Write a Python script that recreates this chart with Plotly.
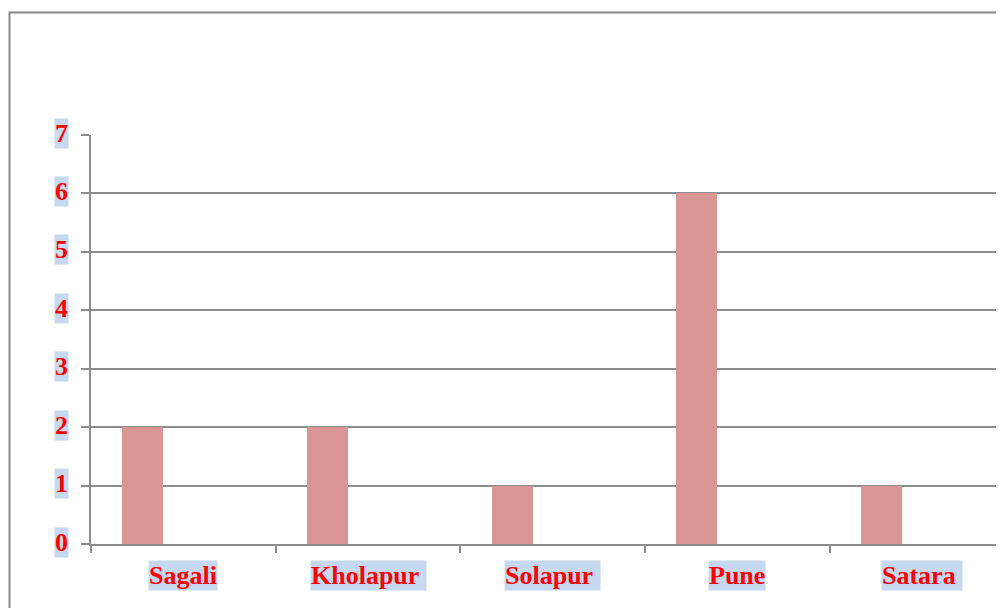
import plotly.graph_objects as go

# dados
cidades = ["Sagali", "Kholapur", "Solapur", "Pune", "Satara"]
rotulos = ["Sagali", "Kholapur\u00a0", "Solapur\u00a0", "Pune", "Satara\u00a0"]
valores = [2, 2, 1, 6, 1]
ticks_y = [0, 1, 2, 3, 4, 5, 6, 7]

CORES = {"barra": "#D99694", "grade": "#8C8C8C", "texto": "#FF0000", "realce": "#C6D9F0"}
FONTE = dict(family="Liberation Serif, Times New Roman, serif", size=26, color=CORES["texto"])

pos = list(range(len(cidades)))

fig = go.Figure()
fig.add_trace(go.Bar(x=pos, y=valores,
                     width=0.222, offset=-0.331,
                     marker=dict(color=CORES["barra"], line_width=0),
                     hovertext=cidades, showlegend=False))

# rótulos com fundo realçado
for i, nome in enumerate(rotulos):
    fig.add_annotation(x=i, y=-0.0758, xref="x", yref="paper", text=f"<b>{nome}</b>",
                       showarrow=False, font=FONTE, bgcolor=CORES["realce"],
                       borderpad=0, xanchor="center", yanchor="middle")
for v in ticks_y:
    fig.add_annotation(x=-0.0239, y=v, xref="paper", yref="y", text=f"<b>{v}</b>",
                       showarrow=False, font=FONTE, bgcolor=CORES["realce"],
                       borderpad=0, xanchor="right", yanchor="middle", yshift=2)

# moldura externa do gráfico
fig.add_shape(type="rect", xref="paper", yref="paper", x0=-0.0885, y0=-0.4, x1=1.2, y1=1.2995,
              line=dict(color="#888888", width=2), layer="below")

fig.update_layout(
    width=1004, height=600,
    margin=dict(l=83, r=0, t=127, b=64),
    plot_bgcolor="white", paper_bgcolor="white",
    bargap=0,
    xaxis=dict(range=[-0.5, 4.487], showticklabels=False, showgrid=False,
               tickmode="array", tickvals=[p - 0.5 for p in pos] + [len(pos) - 0.5],
               ticks="outside", ticklen=7, tickwidth=2,
               tickcolor=CORES["grade"], showline=True, linecolor=CORES["grade"],
               linewidth=2, zeroline=False, fixedrange=True),
    yaxis=dict(range=[0, 7], dtick=1, showticklabels=False, showgrid=True,
               gridcolor=CORES["grade"], gridwidth=2, ticks="outside", ticklen=8,
               tickwidth=2, tickcolor=CORES["grade"], showline=True,
               linecolor=CORES["grade"], linewidth=2, zeroline=False, fixedrange=True),
)

fig.write_html("out.html")
